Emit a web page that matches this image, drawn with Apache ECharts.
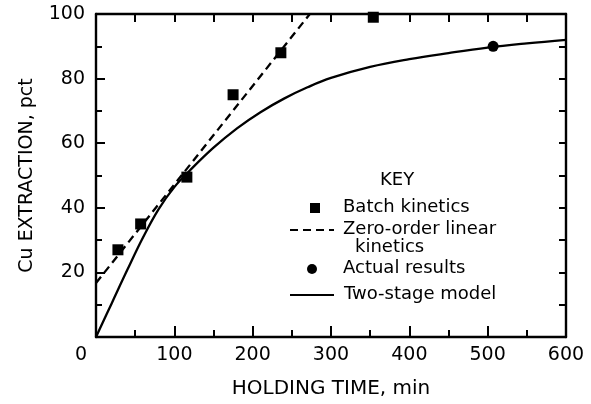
<!DOCTYPE html>
<html>
<head>
<meta charset="utf-8">
<script src="https://cdn.jsdelivr.net/npm/echarts@6/dist/echarts.min.js"></script>
<style>
html,body{margin:0;padding:0;background:#fff;}
#chart{width:591px;height:404px;}
</style>
</head>
<body>
<div id="chart"></div>
<script>
// Batch kinetics (squares)
const batchX = [28, 57, 116, 175, 236, 354];
const batchY = [27, 35, 49.5, 75, 88, 99];
// Zero-order linear kinetics (dashed line end points)
const linearX = [0, 273];
const linearY = [16.7, 100];
// Actual results (circle)
const actualX = [507];
const actualY = [90];
// Two-stage model (solid curve)
const modelX = [0, 20, 40, 60, 80, 100, 120, 150, 180, 210, 240, 270, 300, 350, 400, 450, 500, 550, 600];
const modelY = [0, 10.4, 20.8, 30.8, 39.6, 46.4, 51.6, 58.6, 64.6, 69.6, 73.8, 77.3, 80.2, 83.6, 86.0, 87.9, 89.6, 90.9, 92];
// Axis labels
const xName = 'HOLDING TIME, min';
const yName = 'Cu EXTRACTION, pct';
const keyTitle = 'KEY';
const keyLabels = ['Batch kinetics', 'Zero-order linear', 'kinetics', 'Actual results', 'Two-stage model'];

const zip = (xs, ys) => xs.map((x, i) => [x, ys[i]]);
const FONT = 'DejaVu Sans';
const black = '#000';

const chart = echarts.init(document.getElementById('chart'), null, {renderer: 'canvas'});
const lineStyleAxis = {color: black, width: 2.4};

chart.setOption({
  animation: false,
  backgroundColor: '#fff',
  grid: {left: 96, right: 25, top: 14, bottom: 61},
  xAxis: [
    {
      type: 'value', min: 0, max: 600, interval: 100, position: 'bottom',
      axisLine: {show: true, onZero: false, lineStyle: lineStyleAxis},
      axisTick: {show: true, inside: true, length: 11, lineStyle: {color: black, width: 2}},
      minorTick: {show: true, splitNumber: 2, length: 7, lineStyle: {color: black, width: 2}},
      splitLine: {show: false},
      axisLabel: {
        color: black, fontFamily: FONT, fontSize: 19, margin: 9,
        formatter: v => v === 0 ? '{z|0}' : String(v),
        rich: {z: {fontFamily: FONT, fontSize: 19, color: black, padding: [0, 30, 0, 0]}}
      },
      name: xName, nameLocation: 'middle', nameGap: 42,
      nameTextStyle: {color: black, fontFamily: FONT, fontSize: 20}
    },
    {
      type: 'value', min: 0, max: 600, interval: 50, position: 'top',
      axisLine: {show: true, onZero: false, lineStyle: lineStyleAxis},
      axisTick: {show: true, inside: true, length: 8, lineStyle: {color: black, width: 2}},
      axisLabel: {show: false}, splitLine: {show: false}
    }
  ],
  yAxis: [
    {
      type: 'value', min: 0, max: 100, interval: 20, position: 'left',
      axisLine: {show: true, onZero: false, lineStyle: lineStyleAxis},
      axisTick: {show: true, inside: true, length: 9, lineStyle: {color: black, width: 2}},
      minorTick: {show: true, splitNumber: 2, length: 6, lineStyle: {color: black, width: 2}},
      splitLine: {show: false},
      axisLabel: {
        color: black, fontFamily: FONT, fontSize: 19, margin: 11,
        formatter: v => v === 0 ? '' : String(v)
      },
      name: yName, nameLocation: 'middle', nameGap: 59, nameRotate: 90,
      nameTextStyle: {color: black, fontFamily: FONT, fontSize: 19}
    },
    {
      type: 'value', min: 0, max: 100, interval: 10, position: 'right',
      axisLine: {show: true, onZero: false, lineStyle: lineStyleAxis},
      axisTick: {show: true, inside: true, length: 7, lineStyle: {color: black, width: 2}},
      axisLabel: {show: false}, splitLine: {show: false}
    }
  ],
  series: [
    {
      name: 'Two-stage model', type: 'line', data: zip(modelX, modelY),
      smooth: 0.4, symbol: 'none', clip: true,
      lineStyle: {color: black, width: 2.3}
    },
    {
      name: 'Zero-order linear kinetics', type: 'line', data: zip(linearX, linearY),
      symbol: 'none', clip: true,
      lineStyle: {color: black, width: 2.3, type: [8, 5]}
    },
    {
      name: 'Batch kinetics', type: 'scatter', data: zip(batchX, batchY),
      symbol: 'rect', symbolSize: 11, itemStyle: {color: black, opacity: 1}, clip: false
    },
    {
      name: 'Actual results', type: 'scatter', data: zip(actualX, actualY),
      symbol: 'circle', symbolSize: 11, itemStyle: {color: black, opacity: 1}, clip: false
    }
  ],
  graphic: [
    {type: 'text', left: 380, top: 171, style: {text: keyTitle, fontFamily: FONT, fontSize: 18, fill: black}},
    {type: 'rect', shape: {x: 310, y: 203, width: 10, height: 10}, style: {fill: black}},
    {type: 'text', left: 343, top: 198, style: {text: keyLabels[0], fontFamily: FONT, fontSize: 18, fill: black}},
    {type: 'line', shape: {x1: 290, y1: 230, x2: 334, y2: 230}, style: {stroke: black, lineWidth: 2, lineDash: [8, 5]}},
    {type: 'text', left: 343, top: 220, style: {text: keyLabels[1], fontFamily: FONT, fontSize: 18, fill: black}},
    {type: 'text', left: 355, top: 238, style: {text: keyLabels[2], fontFamily: FONT, fontSize: 18, fill: black}},
    {type: 'circle', shape: {cx: 312, cy: 269, r: 5}, style: {fill: black}},
    {type: 'text', left: 343, top: 259, style: {text: keyLabels[3], fontFamily: FONT, fontSize: 18, fill: black}},
    {type: 'line', shape: {x1: 290, y1: 295, x2: 334, y2: 295}, style: {stroke: black, lineWidth: 2}},
    {type: 'text', left: 344, top: 285, style: {text: keyLabels[4], fontFamily: FONT, fontSize: 18, fill: black}}
  ]
});
</script>
</body>
</html>
